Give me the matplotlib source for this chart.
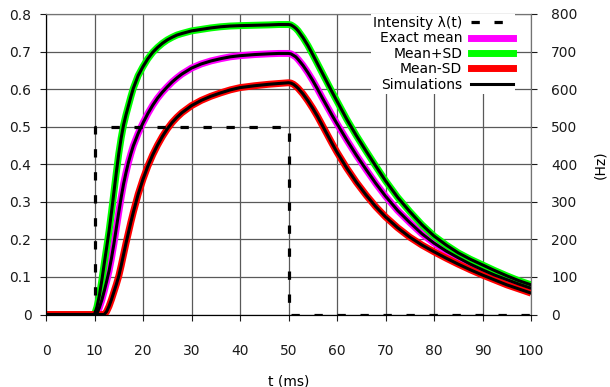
import matplotlib
matplotlib.use("Agg")
import matplotlib.pyplot as plt

# time points (ms)
t = [0, 10, 10.5, 11, 11.5, 12, 12.5, 13, 13.5, 14, 14.5, 15, 15.5, 16, 16.5, 17, 17.5, 18, 19, 20,
     21, 22, 23, 24, 25, 26, 27, 28, 30, 32, 34, 36, 38, 40, 43, 46, 48, 50, 50.5, 51, 51.5, 52,
     53, 54, 55, 56, 57, 58, 59, 60, 62, 64, 66, 68, 70, 72.5, 75, 77.5, 80, 82.5, 85, 87.5, 90,
     92.5, 95, 97.5, 100]

mean_plus_sd = [0, 0, 0.02, 0.05, 0.09, 0.135, 0.178, 0.222, 0.272, 0.325, 0.378, 0.428, 0.47,
                0.505, 0.532, 0.556, 0.58, 0.602, 0.636, 0.66, 0.681, 0.698, 0.711, 0.722, 0.731,
                0.738, 0.744, 0.748, 0.755, 0.759, 0.763, 0.766, 0.768, 0.769, 0.770, 0.771, 0.772,
                0.772, 0.771, 0.767, 0.762, 0.755, 0.737, 0.716, 0.692, 0.667, 0.642, 0.617, 0.592,
                0.568, 0.52, 0.476, 0.435, 0.395, 0.356, 0.312, 0.274, 0.239, 0.209, 0.185, 0.164,
                0.147, 0.132, 0.117, 0.103, 0.09, 0.079]

exact_mean = [0, 0, 0.003, 0.018, 0.038, 0.062, 0.088, 0.116, 0.15, 0.188, 0.23, 0.272, 0.312,
              0.348, 0.378, 0.405, 0.428, 0.449, 0.482, 0.51, 0.535, 0.557, 0.576, 0.592, 0.606,
              0.619, 0.63, 0.64, 0.656, 0.667, 0.675, 0.681, 0.686, 0.689, 0.692, 0.694, 0.695,
              0.695, 0.694, 0.69, 0.686, 0.679, 0.663, 0.644, 0.623, 0.6, 0.576, 0.553, 0.53,
              0.508, 0.465, 0.424, 0.386, 0.349, 0.315, 0.277, 0.245, 0.215, 0.19, 0.169, 0.151,
              0.134, 0.119, 0.105, 0.093, 0.081, 0.070]

mean_minus_sd = [0, 0, 0, 0, 0, 0, 0.008, 0.022, 0.04, 0.06, 0.08, 0.102, 0.13, 0.16, 0.19, 0.218,
                 0.246, 0.272, 0.32, 0.36, 0.395, 0.425, 0.451, 0.474, 0.494, 0.511, 0.525, 0.537,
                 0.556, 0.57, 0.581, 0.59, 0.598, 0.604, 0.609, 0.613, 0.615, 0.617, 0.616, 0.613,
                 0.608, 0.602, 0.587, 0.569, 0.549, 0.527, 0.503, 0.479, 0.455, 0.432, 0.39,
                 0.352, 0.318, 0.287, 0.26, 0.231, 0.206, 0.185, 0.167, 0.15, 0.134, 0.119, 0.105,
                 0.092, 0.079, 0.068, 0.057]

# simulated curves sit on top of the exact ones
sim_curves = [mean_plus_sd, exact_mean, mean_minus_sd]

# input intensity (Hz)
t_int = [0, 10, 10, 50, 50, 100]
rate_hz = [0, 0, 500, 500, 0, 0]

plt.rcParams['font.family'] = 'DejaVu Sans'
plt.rcParams['font.size'] = 10

fig = plt.figure(figsize=(6.1, 3.87), dpi=100)
ax = fig.add_axes([46 / 610, 1 - 314.5 / 387, 485 / 610, 300.5 / 387])
ax2 = ax.twinx()

ax.plot(t, exact_mean, color='#ff00ff', lw=5, solid_capstyle='butt', zorder=2)
ax.plot(t, mean_plus_sd, color='#00ff00', lw=5, solid_capstyle='butt', zorder=2)
ax.plot(t, mean_minus_sd, color='#ff0000', lw=5, solid_capstyle='butt', zorder=2)
for c in sim_curves:
    ax.plot(t, c, color='black', lw=2.2, zorder=3)

ax2.plot(t_int, rate_hz, color='black', lw=2.3, ls=(0, (2.6, 4.6)), dash_capstyle='butt')

ax.set_xlim(0, 100)
ax.set_ylim(0, 0.8)
ax2.set_ylim(0, 800)
ax.set_xticks(range(0, 101, 10))
ax.set_yticks([0, 0.1, 0.2, 0.3, 0.4, 0.5, 0.6, 0.7, 0.8])
ax.set_yticklabels(['0', '0.1', '0.2', '0.3', '0.4', '0.5', '0.6', '0.7', '0.8'])
ax2.set_yticks(range(0, 801, 100))
ax.grid(True, color='0.35', lw=0.9)
ax.set_axisbelow(True)

ax.tick_params(axis='x', direction='out', length=4, pad=17, colors='0.1')
ax.tick_params(axis='y', direction='out', length=4.5, pad=6, colors='0.1')
ax2.tick_params(axis='y', direction='out', length=4.5, pad=10, colors='0.1')

for a in (ax, ax2):
    a.spines['left'].set_color('black')
    a.spines['bottom'].set_color('black')
    a.spines['top'].set_color('0.45')
    a.spines['right'].set_color('0.45')

ax.set_xlabel('t (ms)', labelpad=12)
ax2.set_ylabel('(Hz)', labelpad=11)

# legend handles
h_int = plt.Line2D([], [], color='black', lw=2.3, ls=(0, (2.6, 4.6)), dash_capstyle='butt')
h_mean = plt.Line2D([], [], color='#ff00ff', lw=5)
h_plus = plt.Line2D([], [], color='#00ff00', lw=5)
h_minus = plt.Line2D([], [], color='#ff0000', lw=5)
h_sim = plt.Line2D([], [], color='black', lw=2.2)
leg = ax2.legend([h_int, h_mean, h_plus, h_minus, h_sim],
                 ['Intensity λ(t)', 'Exact mean', 'Mean+SD', 'Mean-SD', 'Simulations'],
                 loc='upper right', bbox_to_anchor=(0.967, 1.0), borderaxespad=0,
                 borderpad=0.15, markerfirst=False, handlelength=3.0, handletextpad=0.65,
                 labelspacing=0.1, frameon=True, fancybox=False, framealpha=1)
leg.get_frame().set_edgecolor('none')
leg.get_frame().set_facecolor('white')

fig.savefig('out.png', dpi=100)
